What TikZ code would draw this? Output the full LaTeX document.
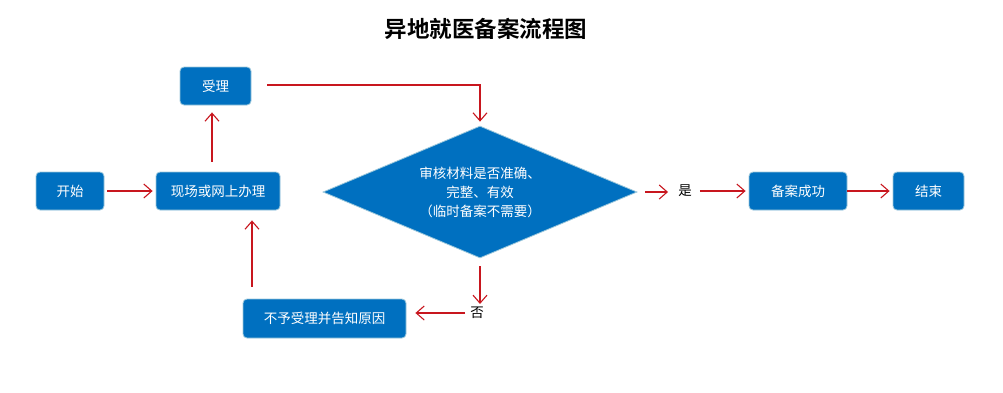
\documentclass[tikz,border=0pt]{standalone}
\usepackage{fontspec}
\setmainfont{Noto Sans CJK SC}[BoldFont={Noto Sans CJK SC Bold}]
\usetikzlibrary{shapes.geometric,arrows.meta}
\definecolor{boxblue}{HTML}{0070C0}
\definecolor{boxedge}{HTML}{9CC8DC}
\definecolor{arrred}{HTML}{C8161E}
\tikzset{
  box/.style={draw=boxedge, line width=0.8pt, fill=boxblue, rounded corners=4pt,
    text=white, font=\fontsize{13.5}{15}\selectfont, minimum height=38pt, inner sep=0pt},
  dec/.style={diamond, draw=boxedge, line width=0.8pt, fill=boxblue, text=white,
    minimum width=314pt, minimum height=132pt, inner sep=0pt, aspect=2.38,
    font=\fontsize{13.5}{19}\selectfont, align=center},
  lbl/.style={font=\fontsize{13.5}{15}\selectfont, text=black, inner sep=0pt},
  arr/.style={draw=arrred, line width=1.1pt, -{Straight Barb[length=8pt,width=14pt,line width=1.1pt]}},
}
\begin{document}
\begin{tikzpicture}[x=1pt,y=-1pt]
\useasboundingbox[fill=white] (0,0) rectangle (1003,392);
\node[font=\bfseries\fontsize{22.5}{24}\selectfont] (title) at (486,29) {异地就医备案流程图};
\node[box, minimum width=68pt] (start) at (70,191) {开始};
\node[box, minimum width=124pt] (apply) at (218,191) {现场或网上办理};
\node[box, minimum width=71pt] (accept) at (215.5,86) {受理};
\node[dec] (check) at (480,192) {审核材料是否准确、\\完整、有效\\（临时备案不需要）};
\node[lbl] (yes) at (685,191) {是};
\node[box, minimum width=98pt] (ok) at (798,191) {备案成功};
\node[box, minimum width=71pt] (end) at (928.5,191) {结束};
\node[box, minimum width=163pt, minimum height=39pt] (reject) at (324.5,318.5) {不予受理并告知原因};
\node[lbl] (no) at (477,313) {否};
\coordinate (c1) at (480,85);
\draw[arr, shorten <=3pt, shorten >=3pt] (start.east) -- (apply.west);
\draw[arr, shorten <=10pt, shorten >=7pt] ([xshift=-6pt]apply.north) -- ([xshift=-3.5pt]accept.south);
\draw[arr, shorten <=16pt, shorten >=4pt] (accept.east |- c1) -- (c1) -- (check.north);
\draw[arr, shorten <=8pt, shorten >=10pt] (check.east) -- (check.east -| yes.west);
\draw[arr, shorten <=8pt, shorten >=3pt] (yes.east) -- (yes.east -| ok.west);
\draw[arr, shorten >=3pt] (ok.east) -- (end.west);
\draw[arr, shorten <=8pt, shorten >=3pt] (check.south) -- (no.north -| check.south);
\draw[arr, shorten <=5pt, shorten >=9pt] (no.west) -- (no.west -| reject.east);
\draw[arr, shorten <=12pt, shorten >=10pt] ([xshift=-72.5pt]reject.north) -- ([xshift=34pt]apply.south);
\end{tikzpicture}
\end{document}
